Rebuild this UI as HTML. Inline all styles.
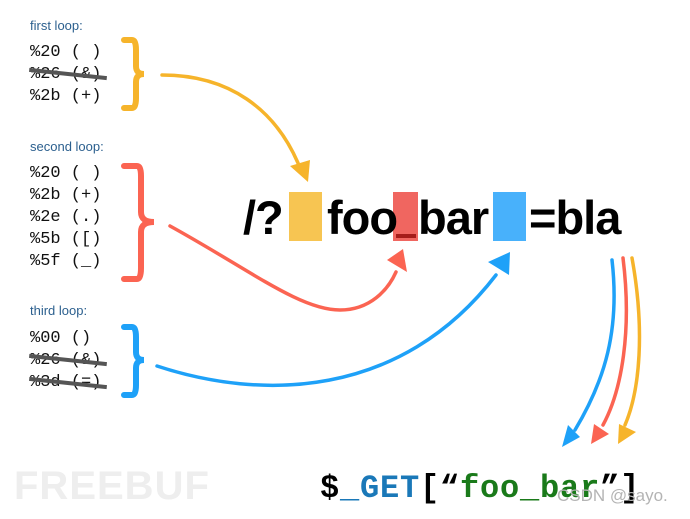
<!DOCTYPE html>
<html><head><style>
body{margin:0;width:690px;height:519px;background:#fff;position:relative;overflow:hidden;font-family:"Liberation Sans",sans-serif}
.l{position:absolute;left:30px;font-size:13px;color:#2b5f8e}
.m{position:absolute;left:30px;font-family:"Liberation Mono",monospace;font-size:17px;color:#111;line-height:22px;white-space:pre}
.s{position:absolute;left:29px;width:78px;height:4px;background:#555;transform:rotate(6deg)}
.big{position:absolute;top:190px;font-weight:bold;font-size:47px;color:#000;letter-spacing:-1px}
</style></head><body>
<div style="position:absolute;left:14px;top:464px;font-size:40px;font-weight:bold;color:#eeeeee;letter-spacing:1px">FREEBUF</div>
<div class="l" style="top:18px">first loop:</div>
<div class="m" style="top:42px">%20 ( )
%26 (&amp;)
%2b (+)</div>
<div class="s" style="top:72px"></div>
<div class="l" style="top:139px">second loop:</div>
<div class="m" style="top:163px">%20 ( )
%2b (+)
%2e (.)
%5b ([)
%5f (_)</div>
<div class="l" style="top:303px">third loop:</div>
<div class="m" style="top:328px">%00 ()
%26 (&amp;)
%3d (=)</div>
<div class="s" style="top:358px"></div>
<div class="s" style="top:381px"></div>

<div style="position:absolute;left:289px;top:192px;width:33px;height:49px;background:#f7c552"></div>
<div style="position:absolute;left:393px;top:192px;width:25px;height:49px;background:#f06660"></div>
<div style="position:absolute;left:396px;top:234px;width:20px;height:4px;background:#a51d1a"></div>
<div style="position:absolute;left:493px;top:192px;width:33px;height:49px;background:#48b1fb"></div>
<div class="big" style="left:243px">/?</div>
<div class="big" style="left:327px">foo</div>
<div class="big" style="left:418px">bar</div>
<div class="big" style="left:529px">=bla</div>

<svg width="690" height="519" style="position:absolute;left:0;top:0">
<g fill="none" stroke-width="6" stroke-linecap="round">
<path d="M124,40 H132 Q136,40 136,50 V66 Q136,74 144,74 Q136,74 136,82 V98 Q136,108 132,108 H124" stroke="#f6b42b"/>
<path d="M124,166 H137 Q141,166 141,176 V212 Q141,222 154,222 Q141,222 141,232 V268 Q141,279 137,279 H124" stroke="#fb6452"/>
<path d="M124,327 H132 Q136,327 136,337 V352 Q136,360 144,360 Q136,360 136,368 V385 Q136,395 132,395 H124" stroke="#1ea1f8"/>
</g>
<g fill="none" stroke-width="3.5" stroke-linecap="round">
<path d="M162,75 C230,75 275,110 298,163" stroke="#f6b42b"/>
<path d="M170,226 C250,270 300,310 340,310 C370,310 388,290 396,272" stroke="#fb6452"/>
<path d="M157,366 C260,400 400,400 496,275" stroke="#1ea1f8"/>
<path d="M612,260 C620,330 605,380 575,430" stroke="#1ea1f8"/>
<path d="M623,258 C632,330 622,390 603,425" stroke="#fb6452"/>
<path d="M632,258 C645,330 640,390 625,425" stroke="#f6b42b"/>
</g>
<polygon points="290,166 310,160 308,182" fill="#f6b42b"/>
<polygon points="387,260 403,249 407,272" fill="#fb6452"/>
<polygon points="488,262 510,252 509,275" fill="#1ea1f8"/>
<polygon points="562,447 568,425 580,437" fill="#1ea1f8"/>
<polygon points="591,444 594,424 609,434" fill="#fb6452"/>
<polygon points="618,444 619,424 636,432" fill="#f6b42b"/>
</svg>
<div style="position:absolute;left:320px;top:470px;font-family:'Liberation Mono',monospace;font-weight:bold;font-size:32px;white-space:pre;letter-spacing:0.8px"><span style="color:#000">$</span><span style="color:#1a78b8">_GET</span><span style="color:#000">[“</span><span style="color:#1a7a1a">foo_bar</span><span style="color:#000">”]</span></div>
<div style="position:absolute;left:557px;top:486px;font-size:17px;color:#b4b4b4">CSDN @sayo.</div>
</body></html>
